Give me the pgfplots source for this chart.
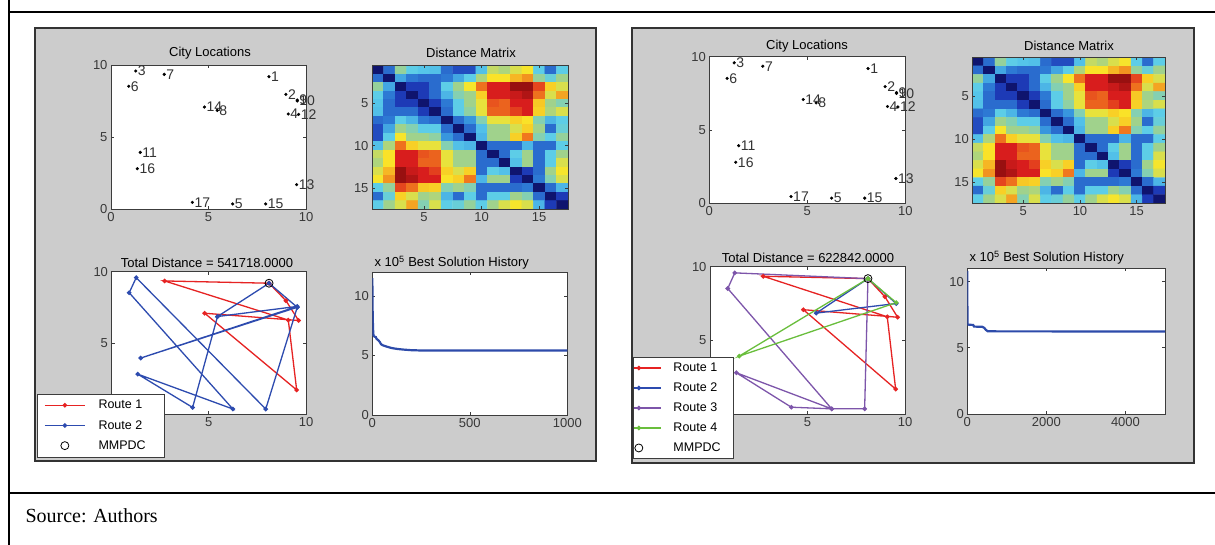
\documentclass[border=0pt]{standalone}
\usepackage{fontspec}
\setmainfont{Liberation Sans}
\newfontfamily\srcfont{Liberation Serif}
\usepackage{pgfplots}
\usepackage{pgfplotstable}
\pgfplotsset{compat=1.18}
\definecolor{panelgray}{RGB}{204,204,204}
\definecolor{axgray}{RGB}{60,60,60}
\definecolor{rtred}{RGB}{230,35,35}
\definecolor{rtblue}{RGB}{45,75,175}
\definecolor{rtpurple}{RGB}{125,85,170}
\definecolor{rtgreen}{RGB}{105,190,60}
\definecolor{histblue}{RGB}{45,75,170}

\pgfplotstableread{
x y lab
8.10 9.19 1
8.97 7.96 2
1.27 9.58 3
9.09 6.60 4
6.24 0.35 5
0.91 8.52 6
2.73 9.35 7
5.45 6.85 8
9.55 7.56 9
9.55 7.50 10
1.50 3.93 11
9.62 6.57 12
9.52 1.69 13
4.79 7.08 14
7.93 0.35 15
1.35 2.80 16
4.17 0.46 17
}\cities

\pgfplotstableread[row sep=\\]{
x y c\\
1 1 0\\ 2 1 0.20\\ 3 1 0.48\\ 4 1 0.38\\ 5 1 0.36\\ 6 1 0.35\\ 7 1 0.20\\ 8 1 0.15\\ 9 1 0.15\\ 10 1 0.35\\ 11 1 0.55\\ 12 1 0.52\\ 13 1 0.58\\ 14 1 0.62\\ 15 1 0.38\\ 16 1 0.20\\ 17 1 0.38\\
1 2 0.20\\ 2 2 0\\ 3 2 0.30\\ 4 2 0.22\\ 5 2 0.20\\ 6 2 0.20\\ 7 2 0.22\\ 8 2 0.30\\ 9 2 0.38\\ 10 2 0.52\\ 11 2 0.63\\ 12 2 0.63\\ 13 2 0.68\\ 14 2 0.72\\ 15 2 0.48\\ 16 2 0.40\\ 17 2 0.50\\
1 3 0.48\\ 2 3 0.30\\ 3 3 0\\ 4 3 0.12\\ 5 3 0.12\\ 6 3 0.20\\ 7 3 0.38\\ 8 3 0.50\\ 9 3 0.62\\ 10 3 0.76\\ 11 3 0.88\\ 12 3 0.88\\ 13 3 0.96\\ 14 3 0.96\\ 15 3 0.82\\ 16 3 0.65\\ 17 3 0.58\\
1 4 0.38\\ 2 4 0.22\\ 3 4 0.12\\ 4 4 0\\ 5 4 0.12\\ 6 4 0.20\\ 7 4 0.33\\ 8 4 0.45\\ 9 4 0.50\\ 10 4 0.65\\ 11 4 0.88\\ 12 4 0.88\\ 13 4 0.90\\ 14 4 0.93\\ 15 4 0.76\\ 16 4 0.58\\ 17 4 0.70\\
1 5 0.36\\ 2 5 0.20\\ 3 5 0.12\\ 4 5 0.12\\ 5 5 0\\ 6 5 0.12\\ 7 5 0.22\\ 8 5 0.38\\ 9 5 0.50\\ 10 5 0.60\\ 11 5 0.80\\ 12 5 0.78\\ 13 5 0.88\\ 14 5 0.88\\ 15 5 0.66\\ 16 5 0.50\\ 17 5 0.45\\
1 6 0.35\\ 2 6 0.20\\ 3 6 0.20\\ 4 6 0.20\\ 5 6 0.12\\ 6 6 0\\ 7 6 0.20\\ 8 6 0.38\\ 9 6 0.47\\ 10 6 0.60\\ 11 6 0.78\\ 12 6 0.78\\ 13 6 0.83\\ 14 6 0.88\\ 15 6 0.65\\ 16 6 0.52\\ 17 6 0.58\\
1 7 0.20\\ 2 7 0.22\\ 3 7 0.38\\ 4 7 0.33\\ 5 7 0.22\\ 6 7 0.20\\ 7 7 0\\ 8 7 0.20\\ 9 7 0.27\\ 10 7 0.45\\ 11 7 0.60\\ 12 7 0.60\\ 13 7 0.65\\ 14 7 0.63\\ 15 7 0.45\\ 16 7 0.33\\ 17 7 0.38\\
1 8 0.15\\ 2 8 0.30\\ 3 8 0.50\\ 4 8 0.45\\ 5 8 0.38\\ 6 8 0.38\\ 7 8 0.20\\ 8 8 0\\ 9 8 0.20\\ 10 8 0.35\\ 11 8 0.50\\ 12 8 0.50\\ 13 8 0.58\\ 14 8 0.65\\ 15 8 0.50\\ 16 8 0.20\\ 17 8 0.40\\
1 9 0.15\\ 2 9 0.38\\ 3 9 0.62\\ 4 9 0.50\\ 5 9 0.50\\ 6 9 0.47\\ 7 9 0.27\\ 8 9 0.20\\ 9 9 0\\ 10 9 0.33\\ 11 9 0.50\\ 12 9 0.50\\ 13 9 0.65\\ 14 9 0.75\\ 15 9 0.45\\ 16 9 0.38\\ 17 9 0.48\\
1 10 0.35\\ 2 10 0.52\\ 3 10 0.76\\ 4 10 0.65\\ 5 10 0.60\\ 6 10 0.60\\ 7 10 0.45\\ 8 10 0.35\\ 9 10 0.33\\ 10 10 0\\ 11 10 0.20\\ 12 10 0.20\\ 13 10 0.20\\ 14 10 0.33\\ 15 10 0.20\\ 16 10 0.20\\ 17 10 0.38\\
1 11 0.55\\ 2 11 0.63\\ 3 11 0.88\\ 4 11 0.88\\ 5 11 0.80\\ 6 11 0.78\\ 7 11 0.60\\ 8 11 0.50\\ 9 11 0.50\\ 10 11 0.20\\ 11 11 0\\ 12 11 0.20\\ 13 11 0.38\\ 14 11 0.50\\ 15 11 0.20\\ 16 11 0.38\\ 17 11 0.50\\
1 12 0.52\\ 2 12 0.63\\ 3 12 0.88\\ 4 12 0.88\\ 5 12 0.78\\ 6 12 0.78\\ 7 12 0.60\\ 8 12 0.50\\ 9 12 0.50\\ 10 12 0.20\\ 11 12 0.20\\ 12 12 0\\ 13 12 0.35\\ 14 12 0.50\\ 15 12 0.20\\ 16 12 0.38\\ 17 12 0.58\\
1 13 0.58\\ 2 13 0.68\\ 3 13 0.96\\ 4 13 0.90\\ 5 13 0.88\\ 6 13 0.83\\ 7 13 0.65\\ 8 13 0.58\\ 9 13 0.65\\ 10 13 0.20\\ 11 13 0.38\\ 12 13 0.35\\ 13 13 0\\ 14 13 0.12\\ 15 13 0.20\\ 16 13 0.50\\ 17 13 0.62\\
1 14 0.62\\ 2 14 0.72\\ 3 14 0.96\\ 4 14 0.93\\ 5 14 0.88\\ 6 14 0.88\\ 7 14 0.63\\ 8 14 0.65\\ 9 14 0.75\\ 10 14 0.33\\ 11 14 0.50\\ 12 14 0.50\\ 13 14 0.12\\ 14 14 0\\ 15 14 0.22\\ 16 14 0.45\\ 17 14 0.58\\
1 15 0.38\\ 2 15 0.48\\ 3 15 0.82\\ 4 15 0.76\\ 5 15 0.66\\ 6 15 0.65\\ 7 15 0.45\\ 8 15 0.50\\ 9 15 0.45\\ 10 15 0.20\\ 11 15 0.20\\ 12 15 0.20\\ 13 15 0.20\\ 14 15 0.22\\ 15 15 0\\ 16 15 0.20\\ 17 15 0.33\\
1 16 0.20\\ 2 16 0.40\\ 3 16 0.65\\ 4 16 0.58\\ 5 16 0.50\\ 6 16 0.52\\ 7 16 0.33\\ 8 16 0.20\\ 9 16 0.38\\ 10 16 0.20\\ 11 16 0.38\\ 12 16 0.38\\ 13 16 0.50\\ 14 16 0.45\\ 15 16 0.20\\ 16 16 0\\ 17 16 0.12\\
1 17 0.38\\ 2 17 0.50\\ 3 17 0.58\\ 4 17 0.70\\ 5 17 0.45\\ 6 17 0.58\\ 7 17 0.38\\ 8 17 0.40\\ 9 17 0.48\\ 10 17 0.38\\ 11 17 0.50\\ 12 17 0.58\\ 13 17 0.62\\ 14 17 0.58\\ 15 17 0.33\\ 16 17 0.12\\ 17 17 0\\
}\distm

\pgfplotsset{
  mlab/.style={
    scale only axis,
    anchor=south west,
    axis background/.style={fill=white},
    axis line style={draw=axgray, line width=0.9pt},
    tick align=inside,
    major tick length=3pt,
    every tick/.style={draw=axgray, line width=0.6pt},
    tick label style={font=\fontsize{13}{13}\selectfont, text=black!78},
    /pgf/number format/assume math mode=true,
    /pgf/number format/set thousands separator={},
  },
  citymap/.style={mlab, xmin=0, xmax=10, ymin=0, ymax=10, xtick={0,5,10}, ytick={0,5,10}, clip=false},
  distmap/.style={mlab, xmin=0.5, xmax=17.5, ymin=0.5, ymax=17.5, y dir=reverse,
    xtick={5,10,15}, ytick={5,10,15},
    colormap={mjet}{rgb255(0cm)=(15,20,110) rgb255(1cm)=(30,60,185) rgb255(2cm)=(50,140,220) rgb255(3cm)=(90,205,235) rgb255(4cm)=(160,210,140) rgb255(5cm)=(250,230,40) rgb255(6cm)=(240,120,30) rgb255(7cm)=(220,30,30) rgb255(8cm)=(120,10,10)},
    point meta min=0, point meta max=1, axis on top},
  routemap/.style={mlab, xmin=0, xmax=10, ymin=0, ymax=10, xtick={0,5,10}, ytick={0,5,10},
    xticklabels={,5,10}, yticklabels={,5,10}},
  rt/.style={line width=1.3pt, mark=*, mark size=1.6pt},
  citylab/.style={only marks, mark=*, mark size=1.4pt, black, point meta=explicit symbolic,
    nodes near coords, nodes near coords style={anchor=west, font=\fontsize{14}{14}\selectfont, text=black!80, inner sep=1pt, xshift=1pt}},
}
\newcommand\ttl{\fontsize{13}{13}\selectfont}

\begin{document}
\begin{tikzpicture}
\path[use as bounding box] (0pt,0pt) rectangle (1215pt,545pt);
\draw[line width=2pt] (9pt,545pt) -- (9pt,0pt);
\draw[line width=2pt] (8pt,533pt) -- (1215pt,533pt);
\draw[line width=2pt] (8pt,52pt) -- (1215pt,52pt);
\filldraw[fill=panelgray, draw=black!80, line width=1.6pt] (35pt,84pt) rectangle (596pt,517pt);
\filldraw[fill=panelgray, draw=black!80, line width=1.6pt] (632pt,82pt) rectangle (1194pt,517pt);
\node[anchor=base west, font=\srcfont\fontsize{20}{20}\selectfont] at (22pt,22pt) {Source: Authors};

% ---------------- panel 1 ----------------
\begin{axis}[citymap, at={(111pt,336pt)}, width=195pt, height=144pt]
\addplot[citylab] table[x=x, y=y, meta=lab] \cities;
\end{axis}
\node[font=\ttl] at (210pt,492pt) {City Locations};

\begin{axis}[distmap, at={(372pt,336pt)}, width=196pt, height=143.5pt]
\addplot[matrix plot*, mesh/cols=17, point meta=explicit] table[x=x, y=y, meta=c] \distm;
\end{axis}
\node[font=\ttl] at (471pt,492pt) {Distance Matrix};

\begin{axis}[routemap, at={(111.5pt,131pt)}, width=194.5pt, height=142.3pt,
  legend style={at={(axis description cs:-0.383,0.1405)}, anchor=north west, draw=axgray, fill=white,
    font=\fontsize{12.5}{12.5}\selectfont, inner xsep=7pt, inner ysep=4pt, row sep=6pt,
    /tikz/every odd column/.append style={column sep=11pt}},
  legend cell align=left,
  legend image code/.code={\draw[mark repeat=2,mark phase=2,#1] plot coordinates {(0pt,0pt)(20pt,0pt)(40pt,0pt)};}]
\addplot[rt, rtred] coordinates {(8.10,9.19) (8.97,7.96) (9.62,6.57) (4.79,7.08) (9.52,1.69) (9.09,6.60) (2.73,9.35) (8.10,9.19)};
\addlegendentry{Route 1\rule{13pt}{0pt}}
\addplot[rt, rtblue] coordinates {(9.55,7.50) (1.50,3.93) (9.55,7.56) (5.45,6.85) (8.10,9.19) (9.55,7.50) (7.93,0.35) (1.27,9.58) (0.91,8.52) (6.24,0.35) (1.35,2.80) (4.17,0.46) (5.45,6.85)};
\addlegendentry{Route 2\rule{13pt}{0pt}}
\addplot[only marks, mark=o, mark size=4pt, black, line width=0.8pt] coordinates {(8.10,9.19)};
\addlegendentry{MMPDC}
\end{axis}
\node[font=\ttl] at (207pt,282.3pt) {Total Distance = 541718.0000};

\begin{axis}[mlab, at={(372.3pt,130pt)}, width=195pt, height=142.7pt, xmin=0, xmax=1000, ymin=0, ymax=12, xtick={0,500,1000}, ytick={0,5,10}]
\addplot[histblue, line width=2.2pt] coordinates {(0,11.5) (1,10.2) (2,8.3) (4,7.2) (6,6.7) (10,6.6) (18,6.55) (22,6.4) (30,6.3) (38,6.15) (45,5.95) (55,5.85) (65,5.8) (80,5.72) (95,5.65) (110,5.6) (130,5.55) (160,5.5) (200,5.45) (260,5.42) (1000,5.417)};
\end{axis}
\node[font=\ttl, anchor=west] at (371pt,282.3pt) {x 10\textsuperscript{5} Best Solution History};

% ---------------- panel 2 ----------------
\begin{axis}[citymap, at={(709.3pt,341.7pt)}, width=196pt, height=146.6pt]
\addplot[citylab] table[x=x, y=y, meta=lab] \cities;
\end{axis}
\node[font=\ttl] at (807pt,499pt) {City Locations};

\begin{axis}[distmap, at={(972.3pt,341.7pt)}, width=192.7pt, height=146pt]
\addplot[matrix plot*, mesh/cols=17, point meta=explicit] table[x=x, y=y, meta=c] \distm;
\end{axis}
\node[font=\ttl] at (1069pt,499pt) {Distance Matrix};

\begin{axis}[routemap, at={(710pt,131pt)}, width=195pt, height=147.3pt,
  legend style={at={(axis description cs:-0.395,0.385)}, anchor=north west, draw=axgray, fill=white,
    font=\fontsize{12.5}{12.5}\selectfont, inner xsep=0pt, inner ysep=3.5pt, row sep=5.8pt,
    /tikz/every odd column/.append style={column sep=10pt}},
  legend cell align=left,
  legend image code/.code={\draw[mark indices={2},#1] plot coordinates {(0pt,0pt)(5pt,0pt)(27pt,0pt)};}]
\addplot[rt, rtred] coordinates {(8.10,9.19) (8.97,7.96) (9.62,6.57) (4.79,7.08) (9.52,1.69) (9.09,6.60) (2.73,9.35) (8.10,9.19)};
\addlegendentry{Route 1\rule{14pt}{0pt}}
\addplot[rt, rtblue] coordinates {(8.10,9.19) (5.45,6.85) (9.55,7.50) (8.10,9.19)};
\addlegendentry{Route 2\rule{14pt}{0pt}}
\addplot[rt, rtpurple] coordinates {(8.10,9.19) (1.27,9.58) (0.91,8.52) (6.24,0.35) (4.17,0.46) (1.35,2.80) (6.24,0.35) (7.93,0.35) (8.10,9.19)};
\addlegendentry{Route 3\rule{14pt}{0pt}}
\addplot[rt, rtgreen] coordinates {(8.10,9.19) (1.50,3.93) (9.55,7.56) (8.10,9.19)};
\addlegendentry{Route 4\rule{14pt}{0pt}}
\addplot[only marks, mark=o, mark size=4pt, black, line width=0.8pt] coordinates {(8.10,9.19)};
\addlegendentry{MMPDC}
\end{axis}
\node[font=\ttl] at (808pt,286.7pt) {Total Distance = 622842.0000};

\begin{axis}[mlab, at={(967.3pt,131pt)}, width=197.7pt, height=145.7pt, xmin=0, xmax=5000, ymin=0, ymax=11, xtick={0,2000,4000}, ytick={0,5,10}]
\addplot[histblue, line width=2.2pt] coordinates {(0,10.8) (3,7.2) (8,6.75) (150,6.72) (170,6.6) (380,6.58) (430,6.5) (470,6.35) (520,6.24) (5000,6.228)};
\end{axis}
\node[font=\ttl, anchor=west] at (966pt,287pt) {x 10\textsuperscript{5} Best Solution History};
\end{tikzpicture}
\end{document}
